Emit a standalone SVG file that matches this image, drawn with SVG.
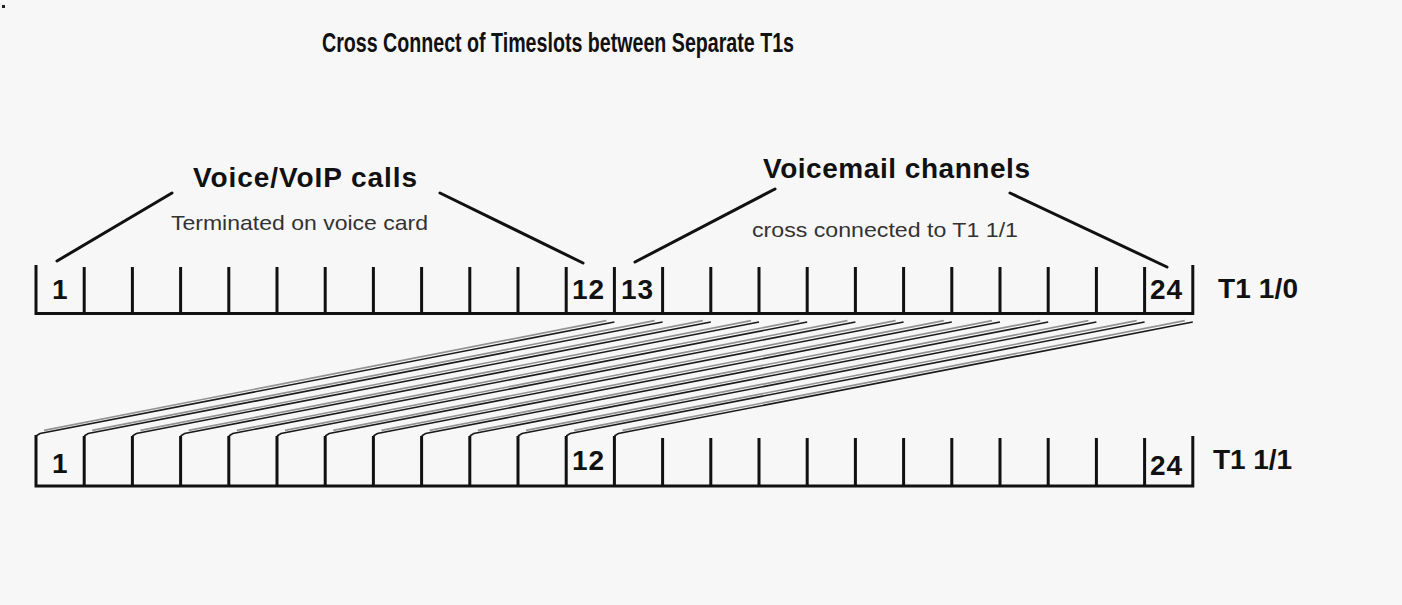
<svg xmlns="http://www.w3.org/2000/svg" width="1402" height="605" viewBox="0 0 1402 605">
<style>
.bg{fill:#f7f7f7}
.bold{font-family:"Liberation Sans",Arial,sans-serif;font-weight:bold;fill:#111}
.reg{font-family:"Liberation Sans",Arial,sans-serif;fill:#333}
.bar{fill:none;stroke:#111;stroke-width:3;stroke-linejoin:miter}
.tick{fill:none;stroke:#111;stroke-width:3}
.ptr{stroke:#111;stroke-width:3;stroke-linecap:round}
.xc{stroke:#1a1a1a;stroke-width:1.6;fill:none}
.xg{stroke:#939393;stroke-width:1.6;fill:none}
.num{font-size:28px;letter-spacing:1px}
</style>
<rect class="bg" x="0" y="0" width="1402" height="605"/>
<rect x="2" y="5" width="3" height="3" fill="#222"/>

<g id="title">
<text class="bold" x="322" y="52" font-size="27" textLength="472" lengthAdjust="spacingAndGlyphs">Cross Connect of Timeslots between Separate T1s</text>
</g>

<g id="label-voice">
<text class="bold" x="193" y="187" font-size="28" textLength="224" lengthAdjust="spacing">Voice/VoIP calls</text>
<text class="reg" x="171" y="230" font-size="21" textLength="257" lengthAdjust="spacingAndGlyphs">Terminated on voice card</text>
<line class="ptr" x1="172" y1="193" x2="57" y2="261"/>
<line class="ptr" x1="440" y1="193" x2="583" y2="263"/>
</g>

<g id="label-voicemail">
<text class="bold" x="763" y="178" font-size="28" textLength="267" lengthAdjust="spacing">Voicemail channels</text>
<text class="reg" x="752" y="237" font-size="21" textLength="266" lengthAdjust="spacingAndGlyphs">cross connected to T1 1/1</text>
<line class="ptr" x1="775" y1="189" x2="635" y2="262"/>
<line class="ptr" x1="1010" y1="193" x2="1167" y2="267"/>
</g>

<g id="t1-1-0">
<path class="bar" d="M36,265 V313.5 H1192.8 V265"/>
<path class="tick" d="M84.2,267V313 M132.4,267V313 M180.6,267V313 M228.8,267V313 M277,267V313 M325.2,267V313 M373.4,267V313 M421.6,267V313 M469.8,267V313 M518,267V313 M566.2,267V313 M614.4,267V313 M662.6,267V313 M710.8,267V313 M759,267V313 M807.2,267V313 M855.4,267V313 M903.6,267V313 M951.8,267V313 M1000,267V313 M1048.2,267V313 M1096.4,267V313 M1144.6,267V313"/>
<text class="bold num" x="52" y="299">1</text>
<text class="bold num" x="572" y="299">12</text>
<text class="bold num" x="621" y="299">13</text>
<text class="bold num" x="1150" y="299">24</text>
<text class="bold" x="1218" y="298" font-size="28" textLength="80" lengthAdjust="spacing">T1 1/0</text>
</g>

<g id="t1-1-1">
<path class="bar" d="M36,435 V486 H1192.8 V436"/>
<path class="tick" d="M84.2,436V486 M132.4,436V486 M180.6,436V486 M228.8,436V486 M277,436V486 M325.2,436V486 M373.4,436V486 M421.6,436V486 M469.8,436V486 M518,436V486 M566.2,436V486 M614.4,436V486 M662.6,438V486 M710.8,438V486 M759,438V486 M807.2,438V486 M855.4,438V486 M903.6,438V486 M951.8,438V486 M1000,438V486 M1048.2,438V486 M1096.4,438V486 M1144.6,438V486"/>
<text class="bold num" x="52" y="473">1</text>
<text class="bold num" x="572" y="470">12</text>
<text class="bold num" x="1150" y="475">24</text>
<text class="bold" x="1213" y="469" font-size="28" textLength="79" lengthAdjust="spacing">T1 1/1</text>
</g>

<g id="connectors">
<g class="xg">
<line x1="606.4" y1="320.6" x2="44" y2="430.4"/>
<line x1="654.6" y1="320.6" x2="92.2" y2="430.4"/>
<line x1="702.8" y1="320.6" x2="140.4" y2="430.4"/>
<line x1="751" y1="320.6" x2="188.6" y2="430.4"/>
<line x1="799.2" y1="320.6" x2="236.8" y2="430.4"/>
<line x1="847.4" y1="320.6" x2="285" y2="430.4"/>
<line x1="895.6" y1="320.6" x2="333.2" y2="430.4"/>
<line x1="943.8" y1="320.6" x2="381.4" y2="430.4"/>
<line x1="992" y1="320.6" x2="429.6" y2="430.4"/>
<line x1="1040.2" y1="320.6" x2="477.8" y2="430.4"/>
<line x1="1088.4" y1="320.6" x2="526" y2="430.4"/>
<line x1="1136.6" y1="320.6" x2="574.2" y2="430.4"/>
<line x1="1184.8" y1="320.6" x2="622.4" y2="430.4"/>
</g>
<g class="xc">
<polyline points="614.4,322 40,433.5 36,436"/>
<polyline points="662.6,322 88.2,433.5 84.2,436"/>
<polyline points="710.8,322 136.4,433.5 132.4,436"/>
<polyline points="759,322 184.6,433.5 180.6,436"/>
<polyline points="807.2,322 232.8,433.5 228.8,436"/>
<polyline points="855.4,322 281,433.5 277,436"/>
<polyline points="903.6,322 329.2,433.5 325.2,436"/>
<polyline points="951.8,322 377.4,433.5 373.4,436"/>
<polyline points="1000,322 425.6,433.5 421.6,436"/>
<polyline points="1048.2,322 473.8,433.5 469.8,436"/>
<polyline points="1096.4,322 522,433.5 518,436"/>
<polyline points="1144.6,322 570.2,433.5 566.2,436"/>
<polyline points="1192.8,322 618.4,433.5 614.4,436"/>
</g>
</g>
</svg>
